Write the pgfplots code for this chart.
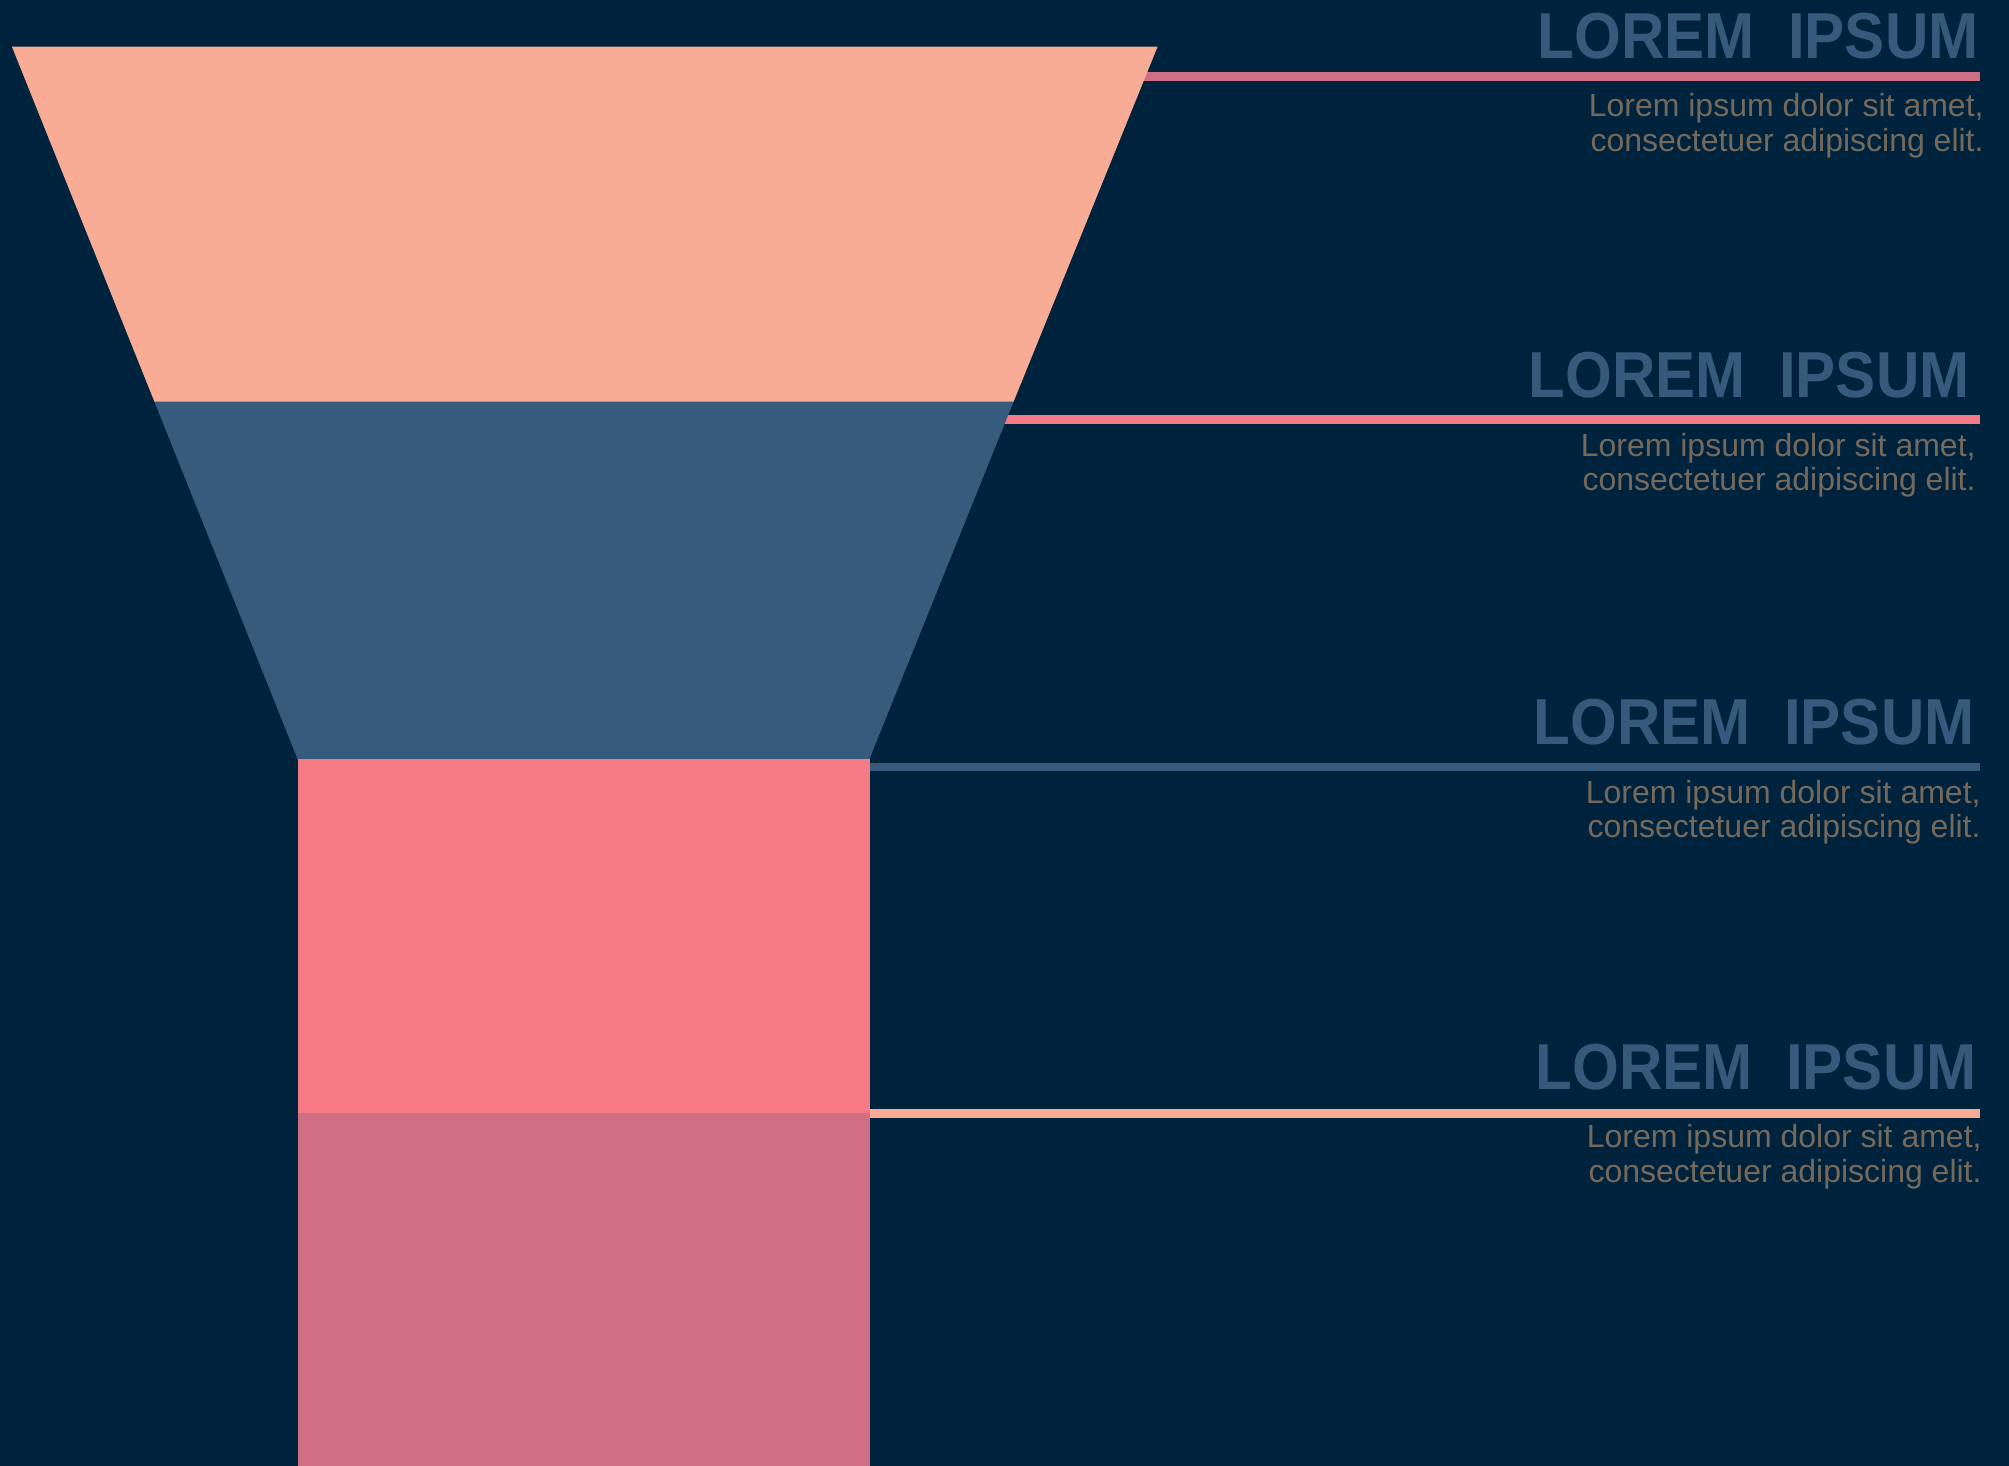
\documentclass[border=0pt]{standalone}
\usepackage{fontspec}
\setmainfont{Liberation Sans}
\newfontfamily\titlefont[FakeStretch=0.925]{Liberation Sans}
\usepackage{pgfplots}
\pgfplotsset{compat=1.18}

\definecolor{bg}{HTML}{00233D}
\definecolor{peach}{HTML}{F9AC95}
\definecolor{steel}{HTML}{365B7D}
\definecolor{pink}{HTML}{F67A86}
\definecolor{mauve}{HTML}{CF6E84}
\definecolor{titlecol}{HTML}{365A7C}
\definecolor{bodycol}{HTML}{75695B}

% 1 px of the reference = 0.5pt
\tikzset{
  ttl/.style={anchor=base east, inner sep=0pt, text=titlecol,
    font=\titlefont\bfseries\fontsize{32.5}{36}\selectfont},
  bdy/.style={anchor=base east, inner sep=0pt, text=bodycol,
    font=\fontsize{16}{18}\selectfont},
}

\begin{document}
\begin{tikzpicture}
\begin{axis}[
  width=1004.5pt, height=733pt, scale only axis,
  hide axis, no markers,
  xmin=0, xmax=2009, ymin=0, ymax=1466,
  y dir=reverse,
]
% background
\addplot[fill=bg, draw=none] coordinates {(0,0) (2009,0) (2009,1466) (0,1466)} -- cycle;

% leader lines (run behind the funnel)
\addplot[draw=mauve, line width=4.2pt] coordinates {(584,76.5) (1980,76.5)};
\addplot[draw=pink, line width=4.2pt] coordinates {(584,419.5) (1980,419.5)};
\addplot[draw=steel, line width=4.2pt] coordinates {(584,767) (1980,767)};
\addplot[draw=peach, line width=4.2pt] coordinates {(584,1113.5) (1980,1113.5)};

% funnel stages
\addplot[fill=peach, draw=peach, line width=0.4pt] coordinates {(12.5,47) (1157,47) (1013,402) (155,402)} -- cycle;
\addplot[fill=steel, draw=steel, line width=0.4pt] coordinates {(155,402) (1013,402) (869,759) (298,759)} -- cycle;
\addplot[fill=pink, draw=pink, line width=0.4pt] coordinates {(298,759) (869,759) (869,1113) (298,1113)} -- cycle;
\addplot[fill=mauve, draw=mauve, line width=0.4pt] coordinates {(298,1113) (869,1113) (869,1466) (298,1466)} -- cycle;

% labels
\node[ttl] at (1979,58.3) {LOREM\ \ IPSUM};
\node[bdy] at (1984,116.7) {Lorem ipsum dolor sit amet,};
\node[bdy] at (1984,151.7) {consectetuer adipiscing elit.};

\node[ttl] at (1970,397.7) {LOREM\ \ IPSUM};
\node[bdy] at (1976,456.7) {Lorem ipsum dolor sit amet,};
\node[bdy] at (1976,490.5) {consectetuer adipiscing elit.};

\node[ttl] at (1975,744.3) {LOREM\ \ IPSUM};
\node[bdy] at (1981,803.3) {Lorem ipsum dolor sit amet,};
\node[bdy] at (1981,837.3) {consectetuer adipiscing elit.};

\node[ttl] at (1977,1089) {LOREM\ \ IPSUM};
\node[bdy] at (1982,1147.7) {Lorem ipsum dolor sit amet,};
\node[bdy] at (1982,1182) {consectetuer adipiscing elit.};
\end{axis}
\end{tikzpicture}
\end{document}
